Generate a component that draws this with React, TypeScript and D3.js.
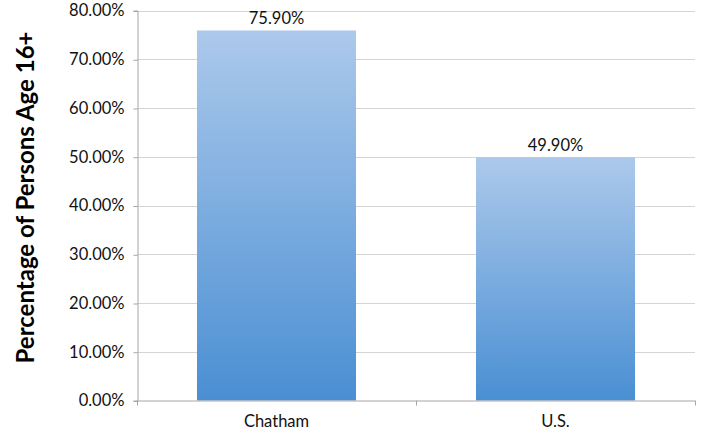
import { useEffect, useRef } from "react"
import * as d3 from "d3"

const categories = ["Chatham", "U.S."]
const values = [75.9, 49.9]
const valueLabels = ["75.90%", "49.90%"]
const yTicks = [0, 10, 20, 30, 40, 50, 60, 70, 80]
const yTitle = "Percentage of Persons Age 16+"

export default function App() {
  const svgRef = useRef<SVGSVGElement>(null)

  useEffect(() => {
    const svg = d3.select(svgRef.current)
    svg.selectAll("*").remove()

    const width = 709
    const height = 432
    const left = 137
    const right = 695
    const top = 10.5
    const bottom = 400.5
    const font = "Lato, 'Open Sans', sans-serif"

    const x = d3.scaleBand().domain(categories).range([left, right]).paddingInner(0.43).paddingOuter(0.215)
    const y = d3.scaleLinear().domain([0, 80]).range([bottom, top])

    svg.attr("width", width).attr("height", height)

    const defs = svg.append("defs")
    const grad = defs
      .append("linearGradient")
      .attr("id", "barGrad")
      .attr("x1", 0)
      .attr("y1", 0)
      .attr("x2", 0)
      .attr("y2", 1)
    grad.append("stop").attr("offset", "0%").attr("stop-color", "#acc9eb")
    grad.append("stop").attr("offset", "100%").attr("stop-color", "#4a8fd3")

    // gridlines
    svg
      .append("g")
      .selectAll("line")
      .data(yTicks.filter((t) => t > 0))
      .enter()
      .append("line")
      .attr("x1", left)
      .attr("x2", right)
      .attr("y1", (d) => Math.round(y(d)) + 0.5)
      .attr("y2", (d) => Math.round(y(d)) + 0.5)
      .attr("stroke", "#d4d4d4")
      .attr("stroke-width", 1)

    // bars
    svg
      .append("g")
      .selectAll("rect")
      .data(values)
      .enter()
      .append("rect")
      .attr("x", (d, i) => x(categories[i])!)
      .attr("width", x.bandwidth())
      .attr("y", (d) => y(d))
      .attr("height", (d) => y(0) - y(d))
      .attr("fill", "url(#barGrad)")

    // value labels
    svg
      .append("g")
      .selectAll("text")
      .data(values)
      .enter()
      .append("text")
      .attr("x", (d, i) => x(categories[i])! + x.bandwidth() / 2)
      .attr("y", (d) => y(d) - 6)
      .attr("text-anchor", "middle")
      .attr("font-family", font)
      .attr("font-size", 16.5)
      .attr("fill", "#111")
      .text((d, i) => valueLabels[i])

    // y axis
    const yAxis = svg
      .append("g")
      .attr("transform", `translate(${left + 0.5},0)`)
      .call(
        d3
          .axisLeft(y)
          .tickValues(yTicks)
          .tickSize(4)
          .tickPadding(9)
          .tickFormat((d) => `${(+d).toFixed(2)}%`)
      )
    yAxis.selectAll("line").attr("transform", "translate(0,0.5)")
    yAxis.select(".domain").attr("stroke", "#a6a6a6")
    yAxis.selectAll(".tick line").attr("stroke", "#a6a6a6")
    yAxis
      .selectAll("text")
      .attr("font-family", font)
      .attr("font-size", 16.5)
      .attr("fill", "#111")

    // x axis
    svg
      .append("line")
      .attr("x1", left)
      .attr("x2", right)
      .attr("y1", bottom + 0.5)
      .attr("y2", bottom + 0.5)
      .attr("stroke", "#a6a6a6")
    const bounds = [left, (left + right) / 2, right]
    svg
      .append("g")
      .selectAll("line")
      .data(bounds)
      .enter()
      .append("line")
      .attr("x1", (d) => Math.round(d) + 0.5)
      .attr("x2", (d) => Math.round(d) + 0.5)
      .attr("y1", bottom)
      .attr("y2", bottom + 5)
      .attr("stroke", "#a6a6a6")

    svg
      .append("g")
      .selectAll("text")
      .data(categories)
      .enter()
      .append("text")
      .attr("x", (d) => x(d)! + x.bandwidth() / 2)
      .attr("y", 427)
      .attr("text-anchor", "middle")
      .attr("font-family", font)
      .attr("font-size", 16.5)
      .attr("fill", "#111")
      .text((d) => d)

    // y title
    svg
      .append("text")
      .attr("transform", `translate(34,197.5) rotate(-90)`)
      .attr("text-anchor", "middle")
      .attr("font-family", font)
      .attr("font-size", 24)
      .attr("font-weight", "bold")
      .attr("fill", "#000")
      .text(yTitle)
  }, [])

  return (
    <div style={{ position: "fixed", left: 0, top: 0, width: 709, height: 432, background: "#fff" }}>
      <svg ref={svgRef} style={{ display: "block" }} />
    </div>
  )
}
